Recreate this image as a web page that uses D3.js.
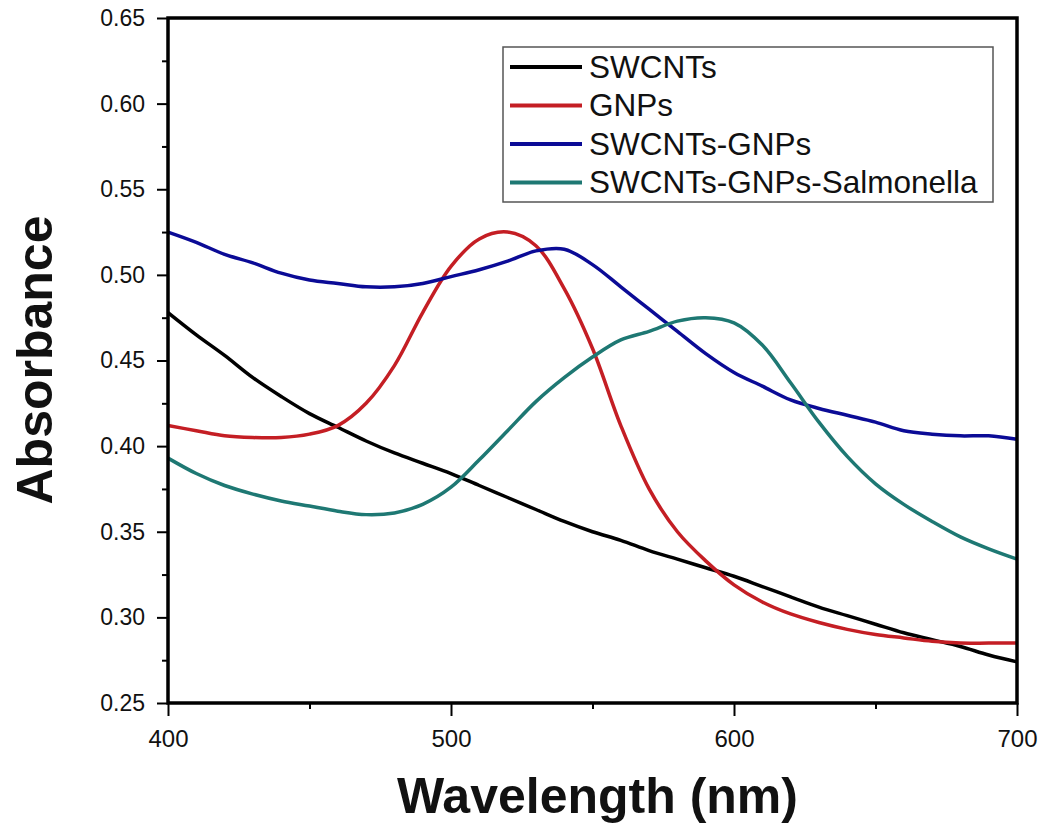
<!DOCTYPE html>
<html>
<head>
<meta charset="utf-8">
<script src="https://cdn.jsdelivr.net/npm/d3@7"></script>
<style>
  html, body { margin: 0; padding: 0; background: #fff; }
  svg { display: block; font-family: "Liberation Sans", Arial, sans-serif; }
</style>
</head>
<body>
<svg id="chart" width="1050" height="827"></svg>
<script>
// ---- Data ----
const wavelength = [400,410,420,430,440,450,460,470,480,490,500,510,520,530,540,550,560,570,580,590,600,610,620,630,640,650,660,670,680,690,700];
const swcnts = [0.478,0.465,0.453,0.440,0.429,0.419,0.411,0.403,0.396,0.390,0.384,0.377,0.370,0.363,0.356,0.350,0.345,0.339,0.334,0.329,0.324,0.318,0.312,0.306,0.301,0.296,0.291,0.287,0.283,0.278,0.274];
const gnps = [0.412,0.409,0.406,0.405,0.405,0.407,0.412,0.425,0.447,0.478,0.505,0.521,0.525,0.517,0.492,0.457,0.412,0.375,0.350,0.333,0.319,0.309,0.302,0.297,0.293,0.290,0.288,0.286,0.285,0.285,0.285];
const swcntsGnps = [0.525,0.519,0.512,0.507,0.501,0.497,0.495,0.493,0.493,0.495,0.499,0.503,0.508,0.514,0.515,0.506,0.493,0.480,0.467,0.454,0.443,0.435,0.427,0.422,0.418,0.414,0.409,0.407,0.406,0.406,0.404];
const swcntsGnpsSalmonella = [0.393,0.384,0.377,0.372,0.368,0.365,0.362,0.360,0.361,0.366,0.376,0.392,0.409,0.426,0.440,0.452,0.462,0.467,0.473,0.475,0.472,0.459,0.437,0.414,0.394,0.378,0.366,0.356,0.347,0.340,0.334];
const seriesNames = ["SWCNTs", "GNPs", "SWCNTs-GNPs", "SWCNTs-GNPs-Salmonella"];
const seriesColors = ["#000000", "#c41e24", "#0b0b96", "#1e7873"];
const xTickValues = [400, 500, 600, 700];
const yTickValues = [0.25, 0.30, 0.35, 0.40, 0.45, 0.50, 0.55, 0.60, 0.65];
const xTitle = "Wavelength (nm)";
const yTitle = "Absorbance";

const seriesValues = [swcnts, gnps, swcntsGnps, swcntsGnpsSalmonella];

// ---- Layout ----
const svg = d3.select("#chart");
const mLeft = 168, mRight = 1017, mTop = 18, mBottom = 703;

const x = d3.scaleLinear().domain([400, 700]).range([mLeft, mRight]);
const y = d3.scaleLinear().domain([0.25, 0.65]).range([mBottom, mTop]);

// minor ticks
const xMinor = d3.range(450, 700, 100);
const yMinor = d3.range(0.275, 0.65, 0.05);

const gx = svg.append("g").attr("transform", `translate(0,${mBottom})`);
gx.call(d3.axisBottom(x).tickValues(xMinor).tickSize(6).tickFormat(""));
gx.call(g => g.select(".domain").remove());
gx.selectAll("line").attr("stroke", "#000").attr("stroke-width", 2);

const gx2 = svg.append("g").attr("transform", `translate(0,${mBottom})`);
gx2.call(d3.axisBottom(x).tickValues(xTickValues).tickSize(13).tickPadding(14).tickFormat(d3.format("d")));
gx2.select(".domain").remove();
gx2.selectAll("line").attr("stroke", "#000").attr("stroke-width", 2);
gx2.selectAll("text").attr("font-size", 24).attr("fill", "#111")
   .attr("font-family", "'Liberation Sans', Arial, sans-serif");

const gy = svg.append("g").attr("transform", `translate(${mLeft},0)`);
gy.call(d3.axisLeft(y).tickValues(yMinor).tickSize(6).tickFormat(""));
gy.select(".domain").remove();
gy.selectAll("line").attr("stroke", "#000").attr("stroke-width", 2);

const gy2 = svg.append("g").attr("transform", `translate(${mLeft},0)`);
gy2.call(d3.axisLeft(y).tickValues(yTickValues).tickSize(11).tickPadding(12).tickFormat(d3.format(".2f")));
gy2.select(".domain").remove();
gy2.selectAll("line").attr("stroke", "#000").attr("stroke-width", 2);
gy2.selectAll("text").attr("font-size", 23).attr("fill", "#111")
   .attr("font-family", "'Liberation Sans', Arial, sans-serif");

// ---- Lines ----
const line = d3.line()
  .x((d, i) => x(wavelength[i]))
  .y(d => y(d))
  .curve(d3.curveCatmullRom.alpha(0.5));

const plot = svg.append("g");
seriesValues.forEach((vals, k) => {
  plot.append("path")
    .datum(vals)
    .attr("d", line)
    .attr("fill", "none")
    .attr("stroke", seriesColors[k])
    .attr("stroke-width", 3.5)
    .attr("stroke-linejoin", "round");
});

// frame
svg.append("rect")
  .attr("x", mLeft).attr("y", mTop)
  .attr("width", mRight - mLeft).attr("height", mBottom - mTop)
  .attr("fill", "none").attr("stroke", "#000").attr("stroke-width", 3.5);

// ---- Legend ----
const lg = svg.append("g");
lg.append("rect")
  .attr("x", 503).attr("y", 47).attr("width", 490).attr("height", 155)
  .attr("fill", "#fff").attr("stroke", "#555").attr("stroke-width", 1.5);
seriesNames.forEach((name, k) => {
  const cy = 67 + k * 38.5;
  lg.append("line")
    .attr("x1", 510).attr("x2", 582).attr("y1", cy).attr("y2", cy)
    .attr("stroke", seriesColors[k]).attr("stroke-width", 4);
  lg.append("text")
    .attr("x", 589).attr("y", cy + 10.5)
    .attr("font-size", 31.5).attr("fill", "#111")
    .text(name);
});

// ---- Axis titles ----
svg.append("text")
  .attr("x", (mLeft + mRight) / 2 + 5).attr("y", 813)
  .attr("text-anchor", "middle")
  .attr("font-size", 50).attr("font-weight", "bold").attr("fill", "#111")
  .text(xTitle);

svg.append("text")
  .attr("transform", "translate(52,360) rotate(-90)")
  .attr("text-anchor", "middle")
  .attr("font-size", 50).attr("font-weight", "bold").attr("fill", "#111")
  .text(yTitle);
</script>
</body>
</html>
